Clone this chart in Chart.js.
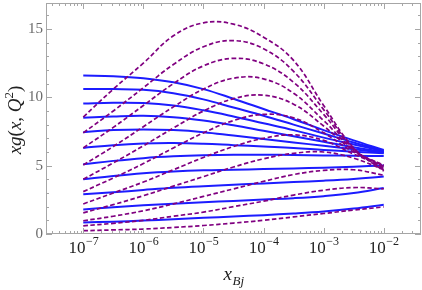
<!DOCTYPE html>
<html>
<head>
<meta charset="utf-8">
<script src="https://cdn.jsdelivr.net/npm/chart.js@4.4.0/dist/chart.umd.min.js"></script>
<style>
  html, body { margin: 0; padding: 0; background: #fff; }
  #wrap { width: 422px; height: 290px; }
</style>
</head>
<body>
<div id="wrap"><canvas id="gluonChart" width="422" height="290"></canvas></div>
<script>
// x grid (half decades from 1e-7 to 1e-2)
const xGrid = [1e-7, 3.16e-7, 1e-6, 3.16e-6, 1e-5, 3.16e-5, 1e-4, 3.16e-4, 1e-3, 3.16e-3, 1e-2];

// solid blue curves
const s1 = [11.6, 11.55, 11.4, 11.1, 10.6, 9.9, 9.15, 8.4, 7.6, 6.85, 6.15];
const s2 = [10.6, 10.6, 10.55, 10.3, 9.85, 9.25, 8.65, 8.0, 7.35, 6.7, 6.1];
const s3 = [9.55, 9.6, 9.58, 9.4, 9.05, 8.6, 8.1, 7.6, 7.05, 6.55, 6.05];
const s4 = [8.5, 8.6, 8.65, 8.55, 8.3, 7.95, 7.55, 7.15, 6.75, 6.35, 6.0];
const s5 = [7.45, 7.6, 7.65, 7.6, 7.45, 7.2, 6.95, 6.7, 6.45, 6.2, 5.95];
const s6 = [6.3, 6.5, 6.62, 6.65, 6.6, 6.5, 6.4, 6.3, 6.15, 6.02, 5.9];
const s7 = [5.1, 5.35, 5.55, 5.68, 5.76, 5.8, 5.8, 5.78, 5.75, 5.72, 5.7];
const s8 = [4.0, 4.25, 4.45, 4.58, 4.66, 4.7, 4.75, 4.8, 4.85, 4.92, 5.02];
const s9 = [2.9, 3.05, 3.22, 3.38, 3.5, 3.6, 3.7, 3.8, 3.9, 4.03, 4.21];
const s10 = [1.8, 1.95, 2.1, 2.22, 2.32, 2.42, 2.52, 2.62, 2.77, 3.0, 3.36];
const s11 = [0.85, 0.9, 0.98, 1.08, 1.18, 1.28, 1.38, 1.5, 1.65, 1.86, 2.14];

// dashed purple curves
const d1 = [8.55, 10.6, 12.5, 14.5, 15.45, 15.35, 14.4, 12.7, 9.4, 6.3, 4.6];
const d2 = [7.4, 9.0, 10.7, 12.4, 13.7, 14.15, 13.55, 11.9, 9.1, 6.25, 4.7];
const d3 = [6.3, 7.8, 9.4, 11.0, 12.3, 12.85, 12.45, 11.1, 8.75, 6.2, 4.8];
const d4 = [5.05, 6.4, 7.85, 9.3, 10.6, 11.4, 11.35, 10.3, 8.3, 6.15, 4.9];
const d5 = [4.0, 5.2, 6.45, 7.75, 9.0, 9.9, 10.15, 9.5, 7.9, 6.1, 5.0];
const d6 = [3.1, 4.1, 5.15, 6.3, 7.4, 8.3, 8.75, 8.5, 7.4, 6.0, 5.05];
const d7 = [2.2, 3.0, 3.8, 4.7, 5.6, 6.4, 7.0, 7.25, 6.85, 5.85, 4.95];
const d8 = [1.55, 2.15, 2.8, 3.5, 4.2, 4.9, 5.5, 5.9, 6.0, 5.55, 4.7];
const d9 = [0.97, 1.3, 1.7, 2.2, 2.75, 3.3, 3.85, 4.35, 4.65, 4.7, 4.3];
const d10 = [0.6, 0.78, 1.0, 1.3, 1.6, 2.0, 2.4, 2.85, 3.2, 3.4, 3.3];
const d11 = [0.24, 0.3, 0.36, 0.48, 0.62, 0.8, 1.0, 1.25, 1.5, 1.75, 1.98];

// ticks
const xTickValues = [1e-7, 1e-6, 1e-5, 1e-4, 1e-3, 1e-2];
const xTickExponents = ['7', '6', '5', '4', '3', '2'];
const yTickValues = [0, 5, 10, 15];
const yTickLabels = ['0', '5', '10', '15'];

const solidCurves = [s1, s2, s3, s4, s5, s6, s7, s8, s9, s10, s11];
const dashedCurves = [d1, d2, d3, d4, d5, d6, d7, d8, d9, d10, d11];

function toPoints(ys) {
    return xGrid.map((x, i) => ({ x: x, y: ys[i] }));
}

const datasets = [];
dashedCurves.forEach(c => {
    datasets.push({
        data: toPoints(c),
        borderColor: '#800080',
        borderWidth: 1.7,
        borderDash: [4.5, 2.5],
        pointRadius: 0,
        tension: 0.4,
        fill: false
    });
});
solidCurves.forEach(c => {
    datasets.push({
        data: toPoints(c),
        borderColor: '#1c1cff',
        borderWidth: 2,
        pointRadius: 0,
        tension: 0.4,
        fill: false
    });
});

const SERIF = '"Liberation Serif", "DejaVu Serif", serif';

// frame, inward ticks, labels and axis titles
const framePlugin = {
    id: 'frame',
    afterDraw(chart) {
        const ctx = chart.ctx;
        const a = chart.chartArea;
        const xs = chart.scales.x;
        const ys = chart.scales.y;
        ctx.save();
        ctx.strokeStyle = '#a6a6a6';
        ctx.lineWidth = 1;
        ctx.strokeRect(a.left + 0.5, a.top + 0.5, a.right - a.left - 1, a.bottom - a.top - 1);

        ctx.beginPath();
        // y ticks, left and right
        for (let v = 0; v <= 16; v++) {
            const py = Math.round(ys.getPixelForValue(v)) + 0.5;
            const len = (v % 5 === 0) ? 6 : 3;
            ctx.moveTo(a.left, py); ctx.lineTo(a.left + len, py);
            ctx.moveTo(a.right, py); ctx.lineTo(a.right - len, py);
        }
        // x ticks, bottom and top
        for (let e = -8; e <= -1; e++) {
            for (let k = 1; k <= 9; k++) {
                const v = k * Math.pow(10, e);
                if (v < xs.min || v > xs.max) continue;
                const px = Math.round(xs.getPixelForValue(v)) + 0.5;
                const len = (k === 1) ? 6 : 3;
                ctx.moveTo(px, a.bottom); ctx.lineTo(px, a.bottom - len);
                ctx.moveTo(px, a.top); ctx.lineTo(px, a.top + len);
            }
        }
        ctx.stroke();

        // y tick labels
        ctx.fillStyle = '#6b6b6b';
        ctx.font = '15px ' + SERIF;
        ctx.textAlign = 'right';
        ctx.textBaseline = 'middle';
        yTickValues.forEach((v, i) => {
            ctx.fillText(yTickLabels[i], a.left - 3, ys.getPixelForValue(v));
        });

        // x tick labels 10^-n
        ctx.fillStyle = '#222';
        ctx.textAlign = 'left';
        ctx.textBaseline = 'alphabetic';
        xTickValues.forEach((v, i) => {
            const base = '10';
            const sup = '\u2212' + xTickExponents[i];
            ctx.font = '17px ' + SERIF;
            const wb = ctx.measureText(base).width;
            ctx.font = '12px ' + SERIF;
            const ws = ctx.measureText(sup).width;
            const x0 = xs.getPixelForValue(v) - (wb + ws) / 2;
            ctx.font = '17px ' + SERIF;
            ctx.fillText(base, x0, 253);
            ctx.font = '12px ' + SERIF;
            ctx.fillText(sup, x0 + wb + 0.5, 245);
        });

        // x axis title: x_Bj
        ctx.fillStyle = '#222';
        ctx.font = 'italic 19px ' + SERIF;
        const wx = ctx.measureText('x').width;
        ctx.font = 'italic 13px ' + SERIF;
        const wbj = ctx.measureText('Bj').width;
        const tx = (a.left + a.right) / 2 - (wx + wbj) / 2;
        ctx.font = 'italic 19px ' + SERIF;
        ctx.fillText('x', tx, 280);
        ctx.font = 'italic 13px ' + SERIF;
        ctx.fillText('Bj', tx + wx + 0.5, 285);

        // y axis title: xg(x, Q^2), rotated
        const parts = [
            ['xg', 'italic 19px ', 0],
            ['(', '19px ', 0],
            ['x', 'italic 19px ', 0],
            [', ', '19px ', 0],
            ['Q', 'italic 19px ', 0],
            ['2', '13px ', -8],
            [')', '19px ', 0]
        ];
        let total = 0;
        parts.forEach(p => { ctx.font = p[1] + SERIF; total += ctx.measureText(p[0]).width; });
        ctx.translate(21, 120);
        ctx.rotate(-Math.PI / 2);
        let cx = -total / 2;
        parts.forEach(p => {
            ctx.font = p[1] + SERIF;
            ctx.fillText(p[0], cx, p[2]);
            cx += ctx.measureText(p[0]).width;
        });
        ctx.restore();
    }
};

const ctx = document.getElementById('gluonChart').getContext('2d');
const gluonChart = new Chart(ctx, {
    type: 'line',
    data: { datasets: datasets },
    options: {
        responsive: false,
        animation: false,
        devicePixelRatio: 1,
        layout: { padding: { top: 3, right: 1, left: 0, bottom: 0 } },
        plugins: { legend: { display: false }, tooltip: { enabled: false } },
        scales: {
            x: {
                type: 'logarithmic',
                min: Math.pow(10, -7.62),
                max: Math.pow(10, -1.38),
                grid: { display: false },
                border: { display: false },
                ticks: { display: false },
                afterFit: s => { s.height = 56; }
            },
            y: {
                type: 'linear',
                min: 0,
                max: 16.9,
                grid: { display: false },
                border: { display: false },
                ticks: { display: false },
                afterFit: s => { s.width = 46; }
            }
        }
    },
    plugins: [framePlugin]
});
</script>
</body>
</html>
